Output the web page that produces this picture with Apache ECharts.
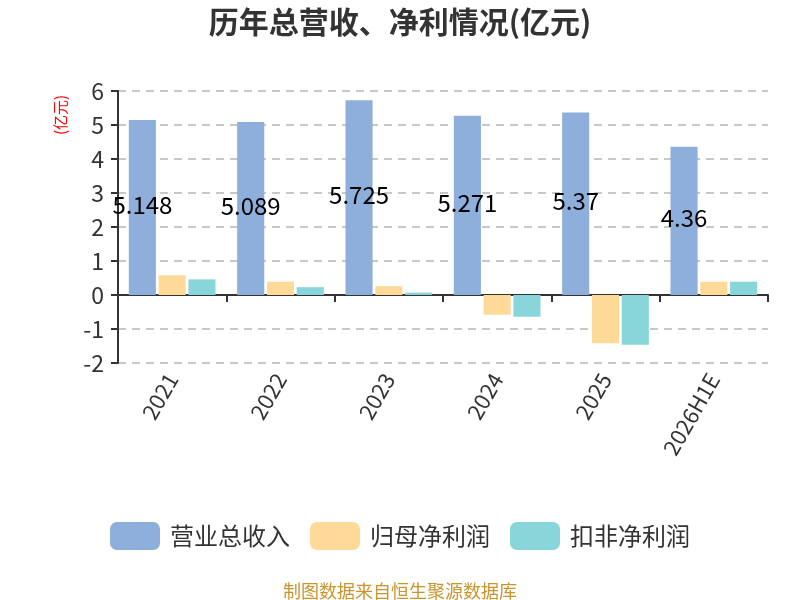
<!DOCTYPE html>
<html>
<head>
<meta charset="utf-8">
<script src="https://cdn.jsdelivr.net/npm/echarts@6/dist/echarts.min.js"></script>
<style>
html, body { margin: 0; padding: 0; background: #fff; }
#main { width: 800px; height: 600px; }
</style>
</head>
<body>
<div id="main"></div>
<script>
// 年份
var years = ['2021', '2022', '2023', '2024', '2025', '2026H1E'];
// 营业总收入(亿元)
var revenue = [5.148, 5.089, 5.725, 5.271, 5.37, 4.36];
// 归母净利润
var netProfit = [0.58, 0.39, 0.26, -0.58, -1.42, 0.39];
// 扣非净利润
var deductProfit = [0.46, 0.23, 0.07, -0.64, -1.46, 0.39];

var fontCN = '"Noto Sans CJK SC", "Noto Sans", sans-serif';
var myChart = echarts.init(document.getElementById('main'));
var option = {
    backgroundColor: '#fff',
    textStyle: { fontFamily: fontCN },
    title: [{
        text: '历年总营收、净利情况(亿元)',
        left: 'center',
        top: 2,
        textStyle: { fontSize: 30, fontWeight: 'bold', color: '#333', fontFamily: fontCN }
    }, {
        text: '制图数据来自恒生聚源数据库',
        left: 'center',
        top: 577,
        textStyle: { fontSize: 18, fontWeight: 'normal', color: '#c8952e', fontFamily: fontCN }
    }],
    legend: {
        top: 517,
        left: 'center',
        itemWidth: 50,
        itemHeight: 28,
        itemGap: 20,
        icon: 'roundRect',
        textStyle: { fontSize: 24, color: '#333', fontFamily: fontCN, padding: [0, 0, 0, 5] },
        data: ['营业总收入', '归母净利润', '扣非净利润']
    },
    //y轴名称
    graphic: [{
        type: 'text',
        x: 60,
        y: 115,
        rotation: Math.PI / 2,
        style: {
            text: '(亿元)',
            fill: '#ff0000',
            font: '15px "Noto Sans CJK SC", sans-serif',
            align: 'center',
            verticalAlign: 'middle'
        }
    }],
    grid: { left: 118, right: 32, top: 91, bottom: 237 },
    xAxis: {
        type: 'category',
        data: years,
        axisLine: { lineStyle: { color: '#333', width: 2 } },
        axisTick: { show: true, length: 7, lineStyle: { width: 2 } },
        axisLabel: { rotate: 60, fontSize: 22, color: '#333', margin: 12, interval: 0 }
    },
    yAxis: {
        type: 'value',
        min: -2,
        max: 6,
        interval: 1,
        axisLine: { show: true, lineStyle: { color: '#333', width: 2 } },
        axisTick: { show: true, length: 7, lineStyle: { width: 2 } },
        axisLabel: { fontSize: 23, color: '#333', margin: 14 },
        splitLine: { lineStyle: { type: [8, 6], color: '#c8c8c8', width: 2 } }
    },
    series: [{
        name: '营业总收入',
        type: 'bar',
        data: revenue,
        barGap: '10%',
        barCategoryGap: '20%',
        itemStyle: { color: '#8eaedb' },
        label: { show: true, position: 'inside', fontSize: 24, color: '#000', offset: [0, -3] }
    }, {
        name: '归母净利润',
        type: 'bar',
        data: netProfit,
        itemStyle: { color: '#ffd998' }
    }, {
        name: '扣非净利润',
        type: 'bar',
        data: deductProfit,
        itemStyle: { color: '#88d6d9' }
    }]
};
myChart.setOption(option);
</script>
</body>
</html>
